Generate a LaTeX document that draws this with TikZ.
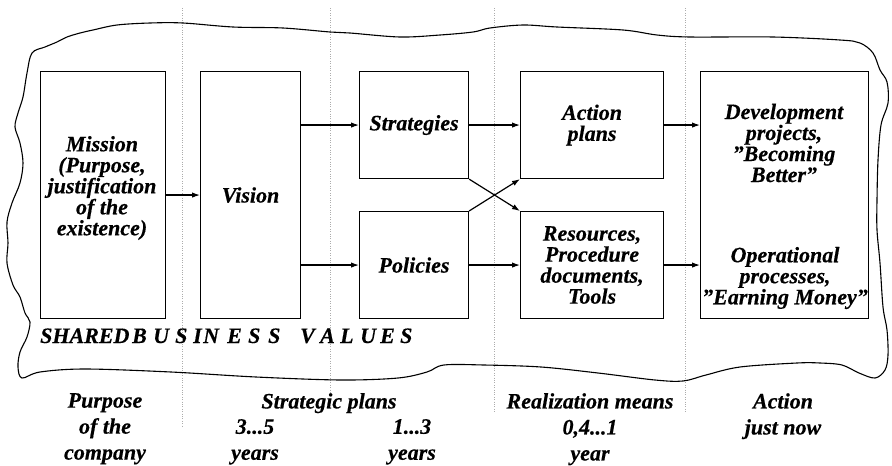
\documentclass[tikz,border=0pt]{standalone}
\usepackage{fontspec}
\setmainfont{Liberation Serif}[BoldItalicFeatures={FakeBold=0.4}]
\usetikzlibrary{arrows.meta}
\newcommand\lw[2]{\makebox[#1pt][l]{#2}}
\begin{document}
\begin{tikzpicture}[x=1pt,y=-1pt,
  box/.style={draw, line width=1.1pt, anchor=north west, inner sep=0pt,
    font=\fontsize{22}{21}\selectfont\bfseries\itshape, align=center},
  lbl/.style={inner sep=0pt, font=\fontsize{22}{21}\selectfont\bfseries\itshape, align=center},
  bot/.style={inner sep=0pt, anchor=north, font=\fontsize{22}{26}\selectfont\bfseries\itshape, align=center},
  arr/.style={line width=1.2pt, -{Latex[length=8pt,width=5.5pt]}},
  div/.style={gray!65, line width=0.8pt, dash pattern=on 1pt off 1.4pt},
  cloud/.style={line width=1.1pt}]
\useasboundingbox (0,0) rectangle (892,466);

% dividers
\coordinate (d1t) at (182,8);  \coordinate (d1b) at (182,427);
\coordinate (d2t) at (330,8);  \coordinate (d2b) at (330,393);
\coordinate (d3t) at (494,8);  \coordinate (d3b) at (494,412);
\coordinate (d4t) at (685,8);  \coordinate (d4b) at (685,412);
\draw[div] (d1t) -- (d1b);
\draw[div] (d2t) -- (d2b);
\draw[div] (d3t) -- (d3b);
\draw[div] (d4t) -- (d4b);

% cloud outline
\draw[cloud] plot[smooth cycle, tension=0.55] coordinates {
 (32,53) (45,47) (57,42) (67,37) (80,33) (93,30) (117,25) (150,23) (183,23)
 (233,27) (283,28) (330,32) (350,33) (400,37) (440,35) (473,32) (490,28)
 (523,25) (557,27) (623,30) (657,35) (690,37) (773,37) (840,40) (860,43)
 (873,53) (880,70) (887,82) (888,103) (881,125) (878,160) (877,200)
 (877,230) (880,263) (883,307) (887,330) (888,355) (885,370) (875,378)
 (859,373) (842,365) (820,363) (797,363) (740,367) (706,375) (683,381)
 (655,380) (598,373) (541,367) (484,365) (444,365) (427,372) (398,378)
 (341,380) (256,377) (171,372) (85,369) (40,372) (22,378) (18,367)
 (20,352) (27,337) (30,322) (25,313) (20,297) (13,285) (7,263) (8,243)
 (7,222) (12,203) (20,183) (23,163) (20,143) (15,127) (18,113) (23,97)
 (27,73)};

% boxes
\node[box, minimum width=125pt, minimum height=247pt] (mis) at (40,71) {};
\node[lbl] (mist) at (102,188) {Mission\\(Purpose,\\justification\\of the\\existence)};
\node[box, minimum width=100pt, minimum height=247pt] (vis) at (200,71) {Vision};
\node[box, minimum width=109pt, minimum height=107pt] (str) at (359,71) {Strategies};
\node[box, minimum width=109pt, minimum height=107pt] (pol) at (359,211) {Policies};
\node[box, minimum width=143pt, minimum height=107pt] (act) at (520,71) {Action\\plans};
\node[box, minimum width=143pt, minimum height=107pt] (res) at (520,211) {Resources,\\Procedure\\documents,\\Tools};
\node[box, minimum width=168pt, minimum height=247pt] (dev) at (700,71) {};
\node[lbl] (devt) at (784,143) {Development\\projects,\\”Becoming\\Better”};
\node[lbl] (opt) at (785,278) {Operational\\processes,\\”Earning Money”};

% arrows
\draw[arr] (mis.east) -- (vis.west);
\draw[arr] (vis.east |- str.west) -- (str.west);
\draw[arr] (vis.east |- pol.west) -- (pol.west);
\draw[arr] (str.east) -- (act.west);
\draw[arr] (pol.east) -- (res.west);
\draw[arr] (str.south east) -- (res.north west);
\draw[arr] (pol.north east) -- (act.south west);
\draw[arr] (act.east) -- (act.east -| dev.west);
\draw[arr] (res.east) -- (res.east -| dev.west);

% shared values
\node[inner sep=0pt, anchor=base west, font=\fontsize{22}{22}\selectfont\bfseries\itshape] (sbv) at (40,343)
 {\lw{92}{SHARED}\lw{21}{B}\lw{22}{U}\lw{18}{S}\lw{10}{I}\lw{24}{N}\lw{21}{E}\lw{20}{S}\lw{32}{S}\lw{20}{V}\lw{20}{A}\lw{20}{L}\lw{20}{U}\lw{20}{E}S};

% bottom labels
\node[bot] (b1) at (105,393) {Purpose\\of the\\company};
\node[bot] (b2) at (329,393) {Strategic plans};
\node[bot] (b3) at (255,419) {3...5\\years};
\node[bot] (b4) at (412,419) {1...3\\years};
\node[bot] (b5) at (590,393) {Realization means\\0,4...1\\year};
\node[bot] (b6) at (783,393) {Action\\just now};
\end{tikzpicture}
\end{document}
